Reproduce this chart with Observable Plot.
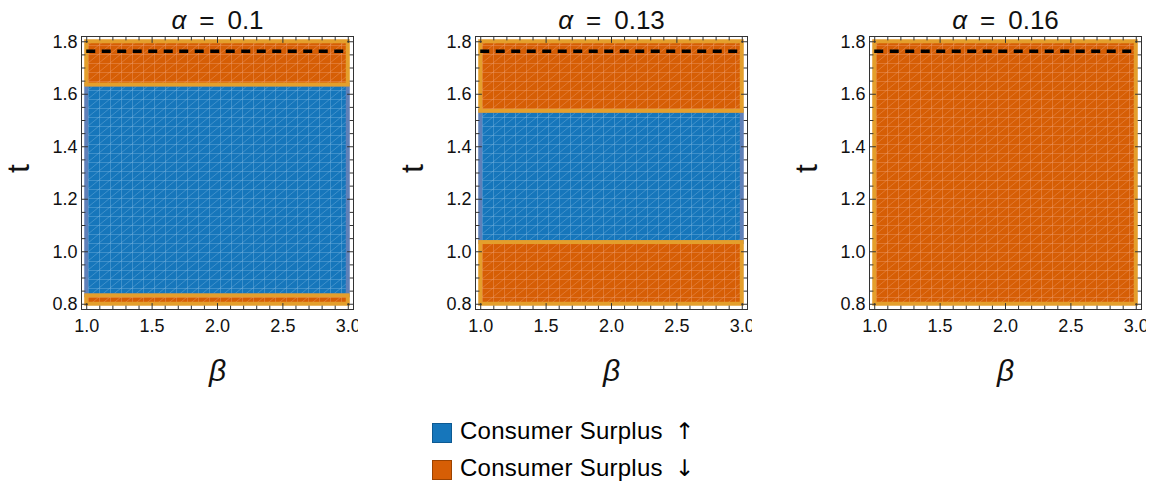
<!DOCTYPE html>
<html><head><meta charset="utf-8">
<script src="https://cdn.jsdelivr.net/npm/d3@7"></script>
<script src="https://cdn.jsdelivr.net/npm/@observablehq/plot@0.6"></script>
<style>
body{margin:0;background:#fff;font-family:"Liberation Sans",Arial,sans-serif}
#wrap{position:relative;width:1157px;height:486px;overflow:hidden;background:#fff}
.panel{position:absolute;top:0}
#legend{position:absolute;left:432px;top:423px;font-size:24px;color:#000;line-height:1}
.item{display:flex;align-items:center;height:20px;margin-bottom:17px}
.sw{width:20px;height:20px;margin-right:8px;box-sizing:border-box;border:1px solid;flex:none}
.lt{position:relative;top:-2px;letter-spacing:0.25px;white-space:pre}
.ar{font-family:"DejaVu Sans",sans-serif;margin-left:12px;font-size:23px}
</style></head><body>
<svg width="0" height="0" style="position:absolute">
<defs>
<pattern id="meshUp" patternUnits="userSpaceOnUse" width="11" height="9">
<rect width="11" height="9" fill="#1676bb"/>
<path d="M0 0.5H11M0.5 0V9M0 9L11 0" stroke="#7cb6e2" stroke-opacity="0.5" stroke-width="0.8" fill="none"/>
</pattern>
<pattern id="meshDown" patternUnits="userSpaceOnUse" width="11" height="9">
<rect width="11" height="9" fill="#d65e05"/>
<path d="M0 0.5H11M0.5 0V9M0 9L11 0" stroke="#f0a070" stroke-opacity="0.5" stroke-width="0.8" fill="none"/>
</pattern>
</defs>
</svg>
<div id="wrap"></div>
<script>
// ---- data ----
const panelAlpha = [0.1, 0.13, 0.16];
const regionPanel = [0, 0, 0, 1, 1, 1, 2];
const regionKind  = ["up", "down", "down", "up", "down", "down", "down"];
const regionTLow  = [0.832, 1.635, 0.800, 1.035, 1.535, 0.800, 0.800];
const regionTHigh = [1.635, 1.800, 0.832, 1.535, 1.800, 1.035, 1.800];
const betaRange = [1, 3];
const dashedT = [1.764];
const xMajor = [1, 1.5, 2, 2.5, 3];
const xMinor = [1.1, 1.2, 1.3, 1.4, 1.6, 1.7, 1.8, 1.9, 2.1, 2.2, 2.3, 2.4, 2.6, 2.7, 2.8, 2.9];
const yMajor = [0.8, 1.0, 1.2, 1.4, 1.6, 1.8];
const yMinor = [0.85, 0.9, 0.95, 1.05, 1.1, 1.15, 1.25, 1.3, 1.35, 1.45, 1.5, 1.55, 1.65, 1.7, 1.75];
const legendLabels = ["Consumer Surplus", "Consumer Surplus"];
const legendArrows = ["↑", "↓"];

// ---- styles ----
const fillFor = {up: "url(#meshUp)", down: "url(#meshDown)"};
const edgeFor = {up: "#5f80b8", down: "#e49f2c"};
const swatch = {up: ["#1676bb", "#0d5a93"], down: ["#d65e05", "#9c4300"]};

const regions = regionPanel.map((p, i) => ({
  panel: p, kind: regionKind[i], t1: regionTLow[i], t2: regionTHigh[i]
}));

const tickShape = {draw(ctx, l) { ctx.moveTo(0, 0); ctx.lineTo(0, -l); }};
const offsets = [0, 394, 788];
const wrap = document.getElementById("wrap");
const frameColor = "#333";

function ticks(vals, ch, anchor, rotate, len) {
  const o = {frameAnchor: anchor, length: len, rotate, anchor: "start", shape: tickShape,
             stroke: frameColor, strokeWidth: 1};
  o[ch] = d => d;
  return Plot.vector(vals, o);
}

panelAlpha.forEach((a, pi) => {
  const data = regions.filter(r => r.panel === pi)
    .sort((p, q) => (p.kind === "up" ? 0 : 1) - (q.kind === "up" ? 0 : 1));
  const svg = Plot.plot({
    width: 358, height: 390,
    marginLeft: 81, marginRight: 5, marginTop: 36, marginBottom: 81,
    style: {fontFamily: "'Liberation Sans', Arial, sans-serif", background: "white", color: "#111"},
    x: {domain: [0.96, 3.04]},
    y: {domain: [0.78, 1.82]},
    marks: [
      Plot.rect(data, {
        x1: () => betaRange[0], x2: () => betaRange[1], y1: "t1", y2: "t2",
        fill: d => fillFor[d.kind], stroke: d => edgeFor[d.kind], strokeWidth: 4
      }),
      Plot.ruleY(dashedT, {y: d => d, x1: () => betaRange[0], x2: () => betaRange[1],
        stroke: "black", strokeWidth: 3.5, strokeDasharray: "9,6.5"}),
      Plot.frame({stroke: frameColor, strokeWidth: 1}),
      ticks(xMajor, "x", "bottom", 0, 6), ticks(xMinor, "x", "bottom", 0, 3.5),
      ticks(xMajor, "x", "top", 180, 6), ticks(xMinor, "x", "top", 180, 3.5),
      ticks(yMajor, "y", "left", 90, 6), ticks(yMinor, "y", "left", 90, 3.5),
      ticks(yMajor, "y", "right", -90, 6), ticks(yMinor, "y", "right", -90, 3.5),
      Plot.axisX(xMajor, {anchor: "bottom", tickSize: 0, tickPadding: 10, fontSize: 18,
        tickFormat: d => d.toFixed(1), fill: "#111"}),
      Plot.axisY(yMajor, {anchor: "left", tickSize: 0, tickPadding: 4, fontSize: 18,
        tickFormat: d => d.toFixed(1), fill: "#111"}),
      Plot.text(["α\u2002=\u2002" + a], {frameAnchor: "top", dy: -8, lineAnchor: "bottom", fontSize: 26, fill: "#111"}),
      Plot.text(["t"], {frameAnchor: "left", dx: -62.5, rotate: -90, fontSize: 32, fill: "#111"}),
      Plot.text(["β"], {frameAnchor: "bottom", dy: 71, lineAnchor: "bottom", fontSize: 30,
        fontStyle: "italic", fill: "#111"})
    ]
  });
  svg.classList.add("panel");
  svg.style.left = offsets[pi] + "px";
  // italic alpha in title
  svg.querySelectorAll("text").forEach(t => {
    if (t.textContent.startsWith("α")) {
      const rest = t.textContent.slice(1);
      t.textContent = "";
      const s1 = document.createElementNS("http://www.w3.org/2000/svg", "tspan");
      s1.setAttribute("font-style", "italic");
      s1.textContent = "α";
      const s2 = document.createElementNS("http://www.w3.org/2000/svg", "tspan");
      s2.textContent = rest;
      t.appendChild(s1); t.appendChild(s2);
    }
  });
  wrap.appendChild(svg);
});

const leg = document.createElement("div");
leg.id = "legend";
["up", "down"].forEach((k, i) => {
  const it = document.createElement("div");
  it.className = "item";
  const sw = document.createElement("span");
  sw.className = "sw";
  sw.style.background = swatch[k][0];
  sw.style.borderColor = swatch[k][1];
  const tx = document.createElement("span");
  tx.className = "lt";
  tx.textContent = legendLabels[i];
  const ar = document.createElement("span");
  ar.className = "ar";
  ar.textContent = legendArrows[i];
  tx.appendChild(ar);
  it.appendChild(sw); it.appendChild(tx);
  leg.appendChild(it);
});
wrap.appendChild(leg);
</script>
</body></html>
